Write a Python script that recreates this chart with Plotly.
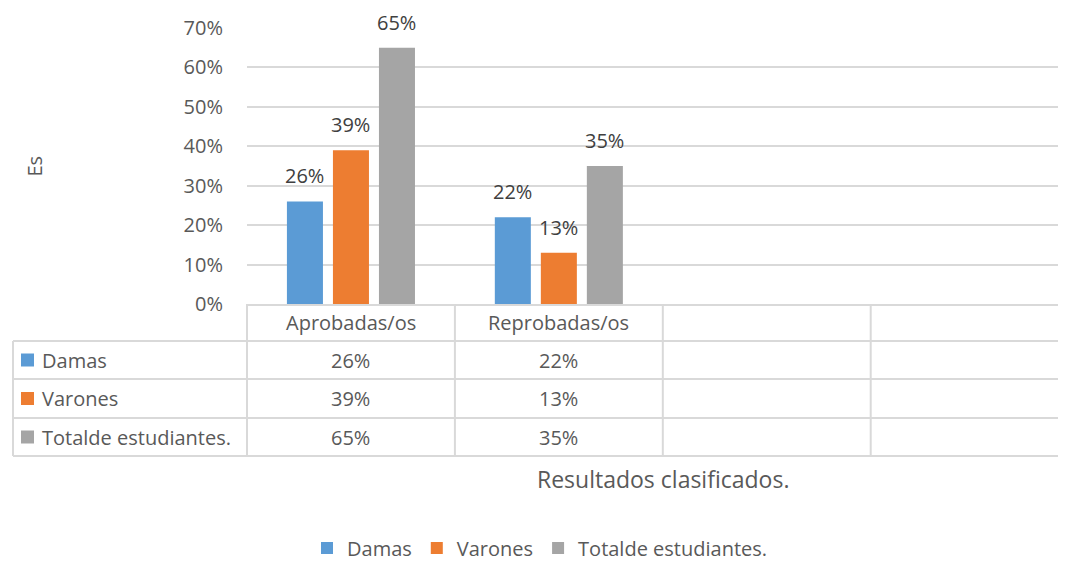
import plotly.graph_objects as go

categories = ["Aprobadas/os", "Reprobadas/os"]
series_names = ["Damas", "Varones", "Totalde estudiantes."]
damas = [0.26, 0.22]
varones = [0.39, 0.13]
total = [0.65, 0.35]
colors = ["#5B9BD5", "#ED7D31", "#A5A5A5"]
series_values = [damas, varones, total]

FONT = "Open Sans"
TXT = "#595959"
GRID = "#D9D9D9"

# page body has an 8px default margin; layout below uses reference-window pixels
OFF = 8
W, H = 1066, 561 - OFF
PL, PT, PB = 247, 28, 304
PR = OFF + W
CAT_PX = 207.9
XR = [-0.5, -0.5 + (PR - PL) / CAT_PX]


def px_x(p):
    return (p - PL) / (PR - PL)


def px_y(p):
    return (PB - p) / (PB - PT)


fig = go.Figure()
for name, vals, col in zip(series_names, series_values, colors):
    fig.add_trace(go.Bar(x=categories, y=vals, name=name, marker_color=col,
                         marker_line_width=0))

shapes = []
annotations = []

# data labels above bars
for i, (vals, col) in enumerate(zip(series_values, colors)):
    for c, v in zip(categories, vals):
        annotations.append(dict(x=c, y=v, xref="x", yref="y", text=f"{round(v*100)}%",
                                showarrow=False, yanchor="bottom", xshift=(i - 1) * 46,
                                yshift=10, font=dict(family=FONT, size=20, color="#404040")))

# data table
row_lines = [341, 379, 418, 456]
for py in row_lines:
    shapes.append(dict(type="line", xref="paper", yref="paper", x0=px_x(13), x1=1.0,
                       y0=px_y(py), y1=px_y(py), line=dict(color=GRID, width=2)))
shapes.append(dict(type="line", xref="paper", yref="paper", x0=px_x(13), x1=px_x(13),
                   y0=px_y(341), y1=px_y(456), line=dict(color=GRID, width=2)))
for k in [-0.5, 0.5, 1.5, 2.5]:
    xp = (k - XR[0]) / (XR[1] - XR[0])
    shapes.append(dict(type="line", xref="paper", yref="paper", x0=xp, x1=xp,
                       y0=px_y(304), y1=px_y(456), line=dict(color=GRID, width=2)))

# header
for c in categories:
    annotations.append(dict(x=c, y=px_y(322), xref="x", yref="paper", text=c, showarrow=False,
                            yanchor="middle", font=dict(family=FONT, size=20, color=TXT)))

row_centers = [360, 398.5, 437]
for rc, name, vals, col in zip(row_centers, series_names, series_values, colors):
    shapes.append(dict(type="rect", xref="paper", yref="paper", x0=px_x(21), x1=px_x(34),
                       y0=px_y(rc - 6.5), y1=px_y(rc + 6.5), fillcolor=col, line=dict(width=0)))
    annotations.append(dict(x=px_x(40), y=px_y(rc), xref="paper", yref="paper", text=name,
                            showarrow=False, xanchor="left", yanchor="middle",
                            font=dict(family=FONT, size=20, color=TXT)))
    for c, v in zip(categories, vals):
        annotations.append(dict(x=c, y=px_y(rc), xref="x", yref="paper", text=f"{round(v*100)}%",
                                showarrow=False, yanchor="middle",
                                font=dict(family=FONT, size=20, color=TXT)))

# axis titles
annotations.append(dict(x=px_x(18), y=0.5, xref="paper", yref="paper", text="Es", textangle=-90,
                        showarrow=False, font=dict(family=FONT, size=20, color=TXT)))
annotations.append(dict(x=px_x(663), y=px_y(479), xref="paper", yref="paper",
                        text="Resultados clasificados.", showarrow=False, yanchor="middle",
                        font=dict(family=FONT, size=23, color=TXT)))

fig.update_layout(
    width=W, height=H,
    margin=dict(l=PL - OFF, r=0, t=PT - OFF, b=(H + OFF) - PB, autoexpand=False),
    paper_bgcolor="white", plot_bgcolor="white",
    barmode="group", bargap=0.336, bargroupgap=0.217,
    font=dict(family=FONT, size=20, color=TXT),
    xaxis=dict(range=XR, showticklabels=False, showgrid=False, showline=True,
               linecolor=GRID, linewidth=2, ticks="", zeroline=False, fixedrange=True),
    yaxis=dict(range=[0, 0.70], dtick=0.1, tickformat=".0%", showgrid=True, gridcolor=GRID,
               gridwidth=1.5, zeroline=False, showline=False, ticks="", ticklabelstandoff=23,
               tickfont=dict(family=FONT, size=20, color=TXT)),
    legend=dict(orientation="h", xref="container", yref="container",
                x=(540 - OFF) / W, y=1 - (548 - OFF) / H,
                xanchor="center", yanchor="middle", font=dict(family=FONT, size=20, color=TXT),
                itemwidth=30, traceorder="normal"),
    shapes=shapes,
    annotations=annotations,
)

fig.write_html("out.html")
